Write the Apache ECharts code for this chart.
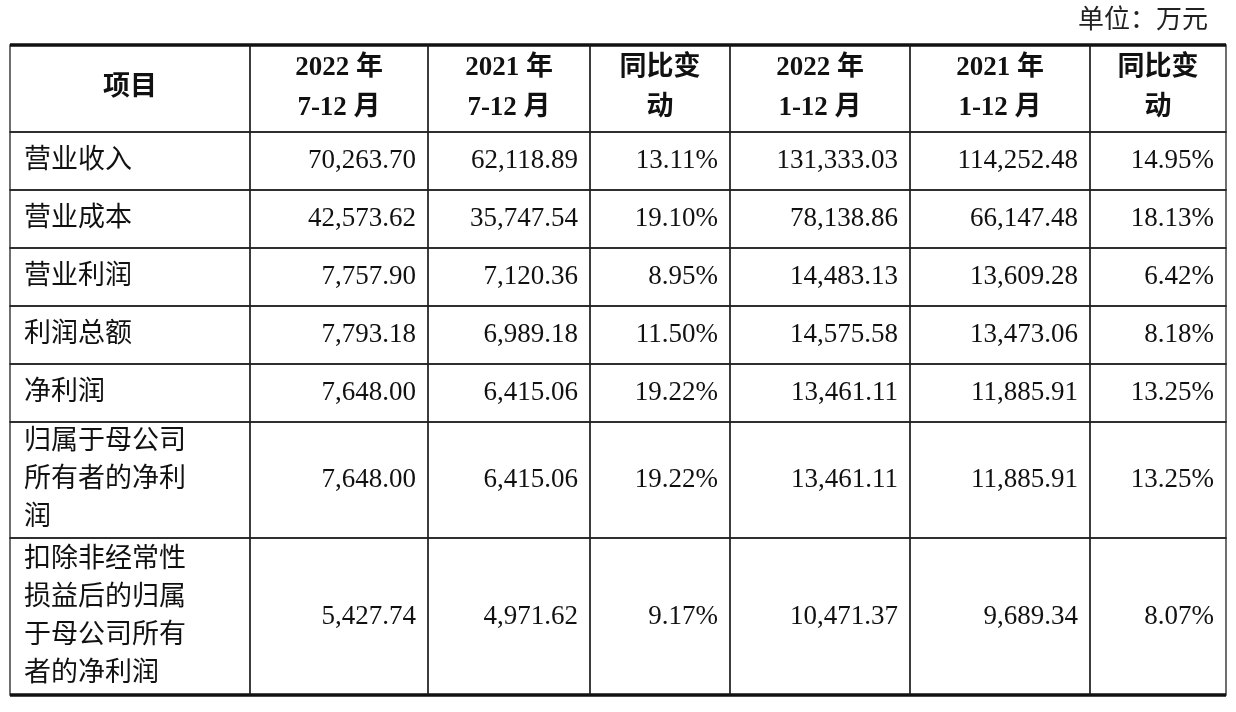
<!DOCTYPE html>
<html><head><meta charset="utf-8">
<script src="https://cdn.jsdelivr.net/npm/echarts@6/dist/echarts.min.js"></script>
<style>html,body{margin:0;padding:0;background:#fff}#c{width:1236px;height:712px}</style>
</head><body><div id="c"></div>
<script>
// table data
var headers = ['项目', '2022 年\n7-12 月', '2021 年\n7-12 月', '同比变\n动', '2022 年\n1-12 月', '2021 年\n1-12 月', '同比变\n动']
var rowLabels = ['营业收入', '营业成本', '营业利润', '利润总额', '净利润', '归属于母公司\n所有者的净利\n润', '扣除非经常性\n损益后的归属\n于母公司所有\n者的净利润']
var h2022 = ['70,263.70', '42,573.62', '7,757.90', '7,793.18', '7,648.00', '7,648.00', '5,427.74']
var h2021 = ['62,118.89', '35,747.54', '7,120.36', '6,989.18', '6,415.06', '6,415.06', '4,971.62']
var hChange = ['13.11%', '19.10%', '8.95%', '11.50%', '19.22%', '19.22%', '9.17%']
var y2022 = ['131,333.03', '78,138.86', '14,483.13', '14,575.58', '13,461.11', '13,461.11', '10,471.37']
var y2021 = ['114,252.48', '66,147.48', '13,609.28', '13,473.06', '11,885.91', '11,885.91', '9,689.34']
var yChange = ['14.95%', '18.13%', '6.42%', '8.18%', '13.25%', '13.25%', '8.07%']
var unitLabel = '单位：万元'

// layout (pixel grid on hidden value axes)
var colEdges = [10, 250, 428, 590, 730, 910, 1090, 1226]
var rowEdges = [45, 132, 190, 248, 306, 364, 422, 538, 695]
var FONT = '"Liberation Serif","Noto Sans CJK SC",serif'

var cells = []
headers.forEach(function (h, c) { cells.push([c, 0, h, 1]) })
var cols = [rowLabels, h2022, h2021, hChange, y2022, y2021, yChange]
for (var r = 0; r < rowLabels.length; r++) {
  for (var c = 0; c < cols.length; c++) cells.push([c, r + 1, cols[c][r], 0])
}

function renderItem (params, api) {
  var c = api.value(0), r = api.value(1), head = api.value(3)
  var text = cells[params.dataIndex][2]
  var p0 = api.coord([colEdges[c], rowEdges[r]])
  var p1 = api.coord([colEdges[c + 1], rowEdges[r + 1]])
  var align = head ? 'center' : (c === 0 ? 'left' : 'right')
  var tx = head ? (p0[0] + p1[0]) / 2 : (c === 0 ? p0[0] + 14 : p1[0] - 12)
  var children = [
    { type: 'rect', shape: { x: p0[0], y: p0[1], width: p1[0] - p0[0], height: p1[1] - p0[1] },
      style: { fill: 'none', stroke: '#222', lineWidth: 1.3 } },
    { type: 'text', style: { x: tx, y: (p0[1] + p1[1]) / 2, text: text, align: align, verticalAlign: 'middle',
      font: (head ? 'bold ' : '') + '27px ' + FONT, fill: '#111', lineHeight: head ? 40 : 38 } }
  ]
  if (r === 0) children.push({ type: 'line', shape: { x1: p0[0], y1: p0[1], x2: p1[0], y2: p0[1] }, style: { stroke: '#111', lineWidth: 3.5 } })
  if (r === rowLabels.length) children.push({ type: 'line', shape: { x1: p0[0], y1: p1[1], x2: p1[0], y2: p1[1] }, style: { stroke: '#111', lineWidth: 3.5 } })
  return { type: 'group', children: children }
}

var chart = echarts.init(document.getElementById('c'), null, { renderer: 'canvas' })
chart.setOption({
  animation: false,
  backgroundColor: '#fff',
  grid: { left: 0, right: 0, top: 0, bottom: 0 },
  xAxis: { type: 'value', min: 0, max: 1236, show: false },
  yAxis: { type: 'value', min: 0, max: 712, inverse: true, show: false },
  graphic: [{ type: 'text', right: 28, top: 8, style: { text: unitLabel, font: '26px ' + FONT, fill: '#222' } }],
  series: [{ type: 'custom', renderItem: renderItem, data: cells.map(function (d) { return [d[0], d[1], 0, d[3]] }) }]
})
</script></body></html>
